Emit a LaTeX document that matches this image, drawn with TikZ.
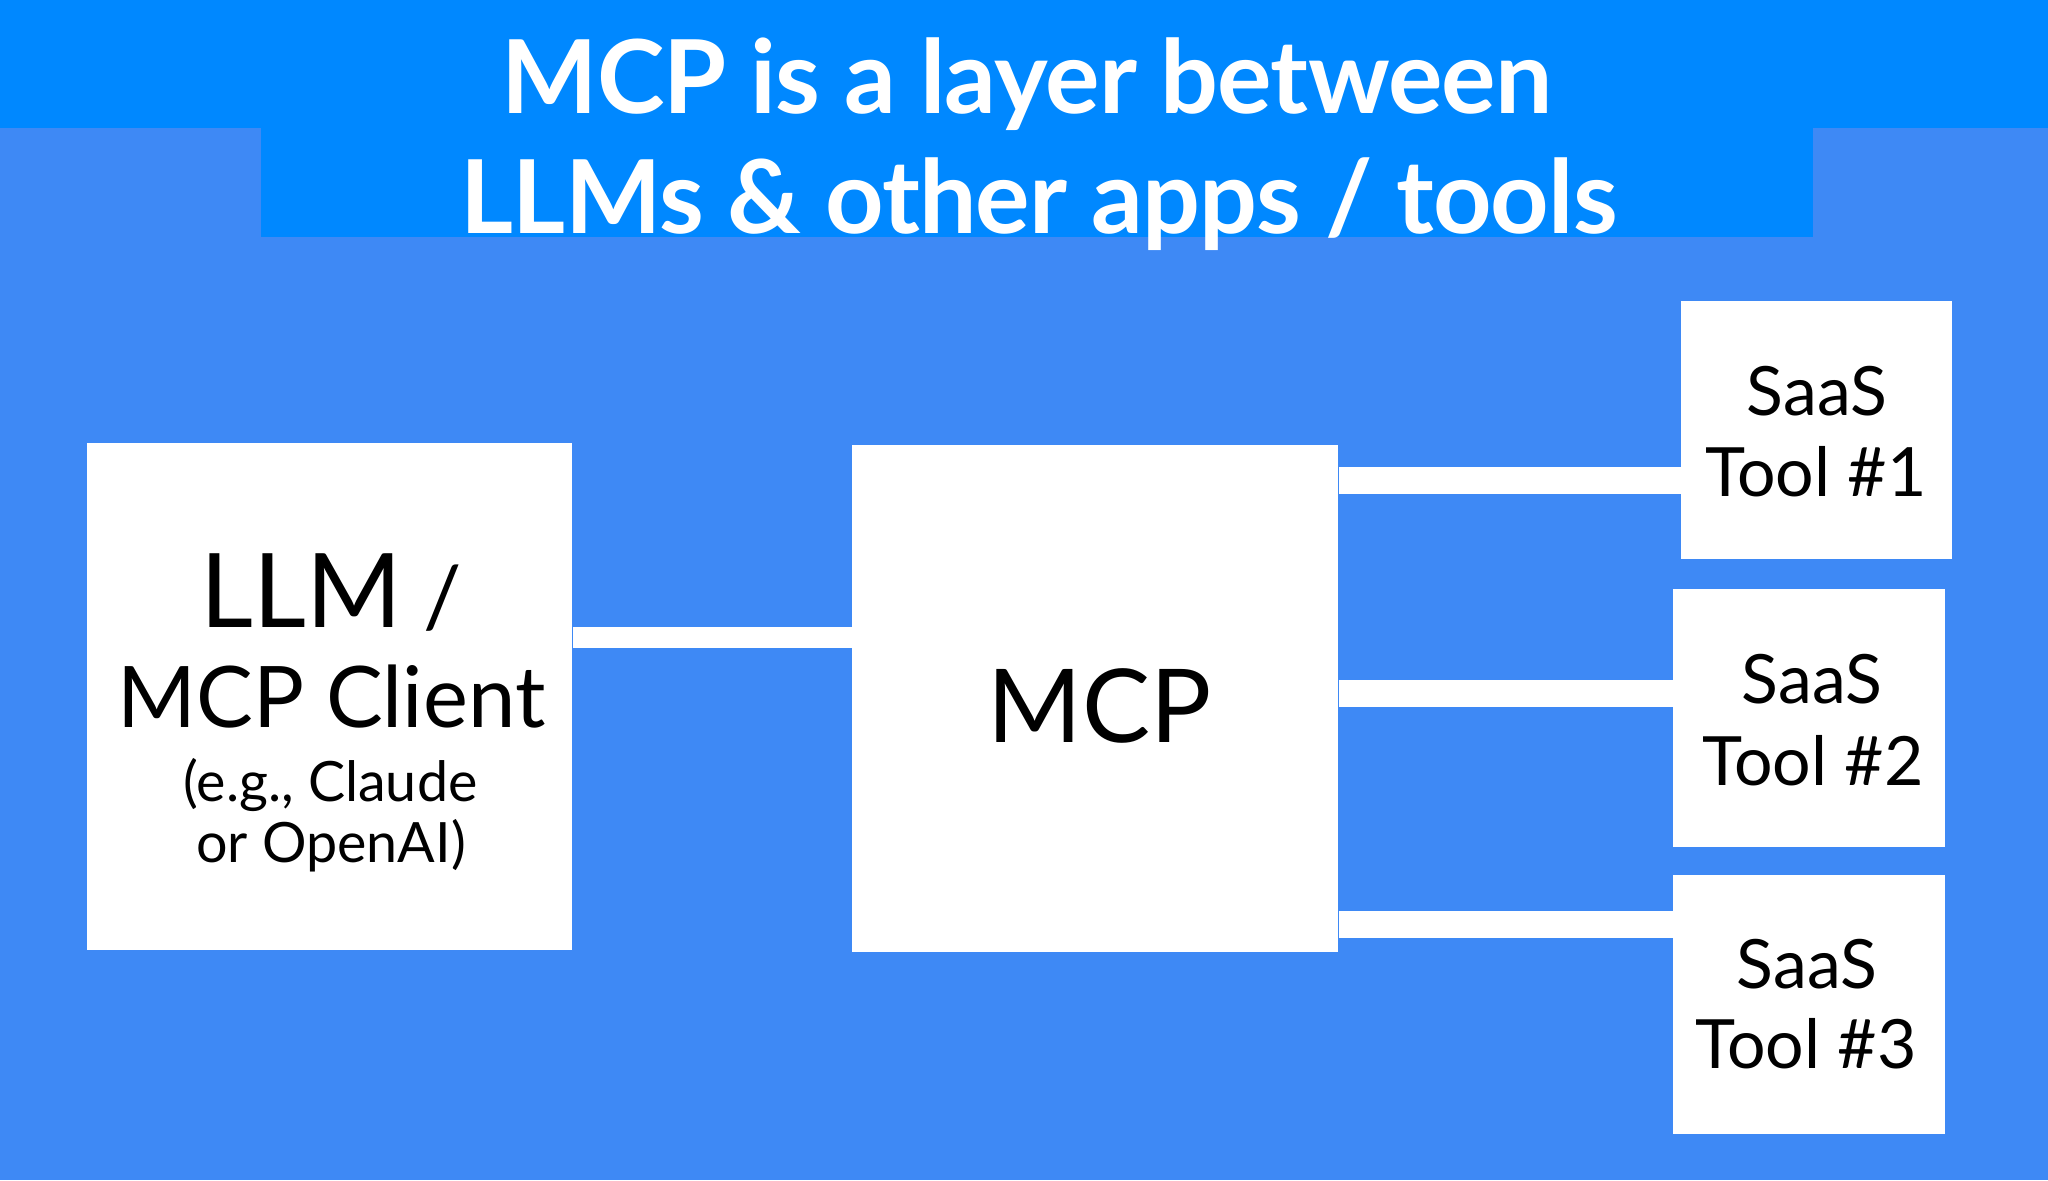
\documentclass[tikz,border=0pt]{standalone}
\usepackage{fontspec}
\setmainfont{Lato}
\newfontfamily\titlefont[LetterSpace=-0.9]{Lato}
\definecolor{bandblue}{HTML}{0088FF}
\definecolor{bodyblue}{HTML}{3E89F5}
\begin{document}
\begin{tikzpicture}[x=0.5pt,y=-0.5pt,
  whitebox/.style={fill=white, draw=none, inner sep=0pt, anchor=north west},
  conn/.style={draw=white, line width=10.5pt, line cap=butt},
  tconn/.style={draw=white, line width=13.5pt, line cap=butt},
  txt/.style={anchor=base, inner sep=0pt, text=black},
  ttl/.style={anchor=base, inner sep=0pt, text=white, font=\titlefont\fontsize{51}{60}\selectfont\bfseries},
  big/.style={font=\fontsize{51.5}{60}\selectfont},
  mid/.style={font=\fontsize{42.5}{50}\selectfont},
  small/.style={font=\fontsize{27.8}{32}\selectfont},
  saas/.style={font=\fontsize{34}{40}\selectfont}]
% background
\fill[bodyblue] (0,0) rectangle (2048,1180);
\useasboundingbox (0,0) rectangle (2048,1180);
\fill[bandblue] (0,0) rectangle (2048,128);
\fill[bandblue] (261,127) rectangle (1813,237);
% title
\node[ttl] (title1) at (1027,113) {MCP is a layer between};
\node[ttl] (title2) at (1039,233) {LLMs \& other apps / tools};
% boxes
\node[whitebox, minimum width=242.5pt, minimum height=253.5pt] (llm) at (87,443) {};
\node[whitebox, minimum width=243pt, minimum height=253.5pt] (mcp) at (852,445) {};
\node[whitebox, minimum width=135.5pt, minimum height=129pt] (t1) at (1681,301) {};
\node[whitebox, minimum width=136pt, minimum height=129pt] (t2) at (1673,589) {};
\node[whitebox, minimum width=136pt, minimum height=129.5pt] (t3) at (1673,875) {};
% connector levels
\coordinate (j0) at (700,637.5);
\coordinate (j1) at (1500,480.5);
\coordinate (j2) at (1500,693.5);
\coordinate (j3) at (1500,924.5);
\draw[conn] (llm.east |- j0) -- (mcp.west |- j0);
\draw[tconn] (mcp.east |- j1) -- (t1.west |- j1);
\draw[tconn] (mcp.east |- j2) -- (t2.west |- j2);
\draw[tconn] (mcp.east |- j3) -- (t3.west |- j3);
% LLM text
\node[txt, big] (llmA) at (331.5,627) {LLM{\fontsize{42.5}{50}\selectfont\ /}};
\node[txt, mid] (llmB) at (331.5,727) {MCP Client};
\node[txt, small] (llmC) at (330.5,801) {(e.g., Claude};
\node[txt, small] (llmD) at (331,862) {or OpenAI)};
% MCP text
\node[txt, font=\fontsize{51}{60}\selectfont] (mcpA) at (1099.5,742) {MCP};
% tools
\node[txt, saas] (t1a) at (1817,415) {SaaS};
\node[txt, saas] (t1b) at (1816,496) {Tool \#1};
\node[txt, saas] (t2a) at (1812,703) {SaaS};
\node[txt, saas] (t2b) at (1813,785) {Tool \#2};
\node[txt, saas] (t3a) at (1807,988) {SaaS};
\node[txt, saas] (t3b) at (1806,1068) {Tool \#3};
\end{tikzpicture}
\end{document}
